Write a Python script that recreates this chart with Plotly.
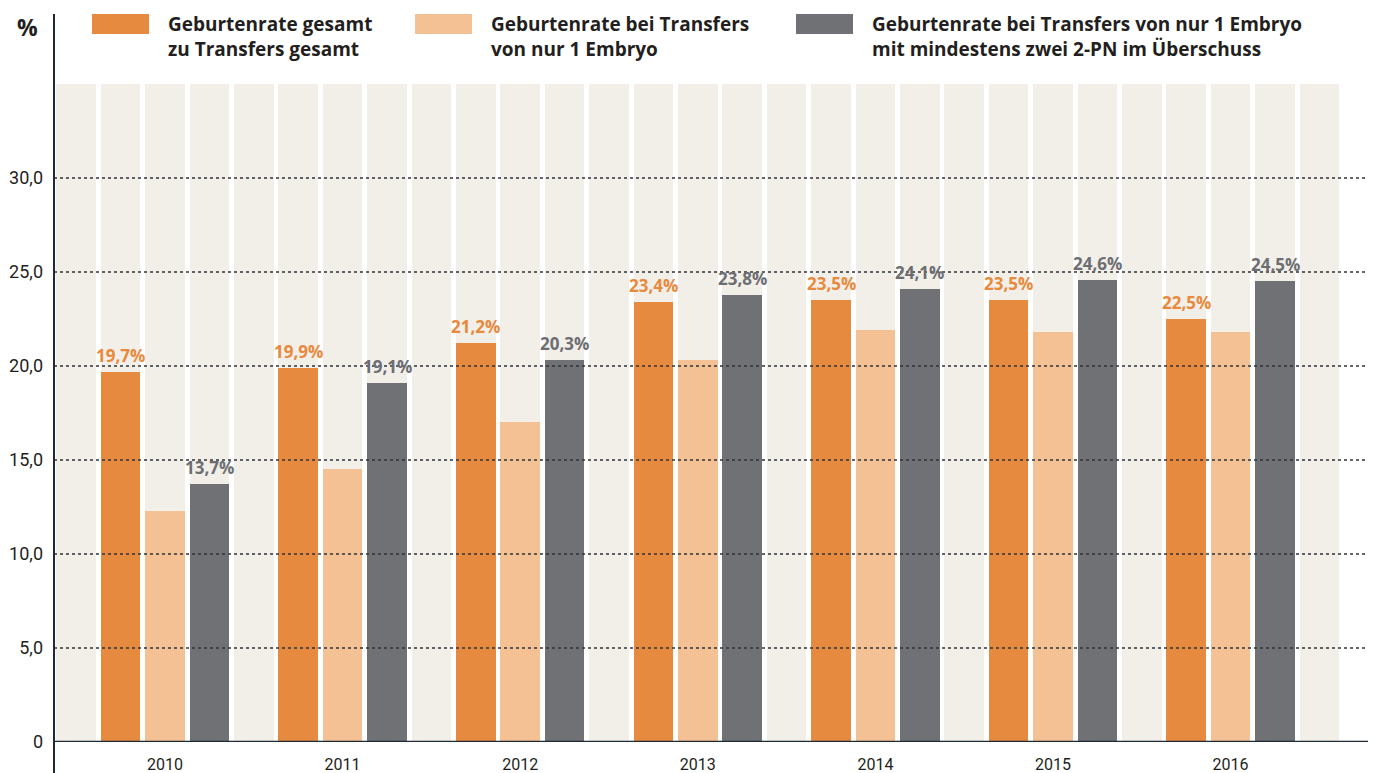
import plotly.graph_objects as go

# the page body adds an 8px margin, so the figure is drawn 8px smaller
OFF = 8
W, H = 1376 - OFF, 773 - OFF
ML, MR, MT, MB = 54 - OFF, 0, 84 - OFF, 31

years = ["2010", "2011", "2012", "2013", "2014", "2015", "2016"]
gesamt = [19.7, 19.9, 21.2, 23.4, 23.5, 23.5, 22.5]
ein_embryo = [12.3, 14.5, 17.0, 20.3, 21.9, 21.8, 21.8]
ein_embryo_2pn = [13.7, 19.1, 20.3, 23.8, 24.1, 24.6, 24.5]

series_names = [
    "Geburtenrate gesamt<br>zu Transfers gesamt",
    "Geburtenrate bei Transfers<br>von nur 1 Embryo",
    "Geburtenrate bei Transfers von nur 1 Embryo<br>mit mindestens zwei 2-PN im Überschuss",
]
colors = ["#e68a40", "#f3c193", "#707175"]
label_colors = ["#e8893d", None, "#6d6e72"]

y_ticks = [0, 5, 10, 15, 20, 25, 30]
y_ticktext = ["0", "5,0", "10,0", "15,0", "20,0", "25,0", "30,0"]
Y_MAX = 35

BEIGE = "#f2efe9"
DARK = "#231f20"
AXIS = "#1e2b34"
BOLD = "Open Sans"
REG = "Roboto"

# column slots: one beige spacer, then per year: 3 bars + beige spacer
n_cols = 4 * len(years) + 1
col_px = 44.4
plot_w = W - ML - MR
x_max = -0.5 + plot_w / col_px
plot_h = H - MT - MB


# helpers take page pixel positions
def px_x(px):
    return (px - OFF - ML) / plot_w


def px_y(py):
    return (H - MB - (py - OFF)) / plot_h


def fmt(v):
    return f"{v:.1f}".replace(".", ",") + "%"


fig = go.Figure()

# beige background columns
fig.add_trace(go.Bar(
    x=list(range(n_cols)), y=[Y_MAX] * n_cols, width=0.89,
    marker=dict(color=BEIGE, line=dict(width=0)),
    hoverinfo="skip", showlegend=False,
))

all_series = [gesamt, ein_embryo, ein_embryo_2pn]
for k, vals in enumerate(all_series):
    xs = [4 * i + 1 + k for i in range(len(years))]
    fig.add_trace(go.Bar(
        x=xs, y=vals, width=0.89, name=series_names[k],
        marker=dict(color=colors[k], line=dict(width=0)),
        showlegend=False,
    ))
    if label_colors[k]:
        for x, v in zip(xs, vals):
            fig.add_annotation(
                x=x, y=v, text="<b>" + fmt(v) + "</b>", showarrow=False,
                yanchor="bottom", yshift=3,
                font=dict(family=BOLD, size=17, color=label_colors[k]),
            )

shapes = []
# dotted gridlines on top of bars
for t in y_ticks[1:]:
    shapes.append(dict(
        type="line", xref="paper", yref="y", x0=0, x1=1, y0=t, y1=t,
        line=dict(color="#2f353a", width=1.3, dash="dot"), layer="above",
    ))
# axis lines
shapes.append(dict(
    type="line", xref="paper", yref="y", x0=0, x1=1, y0=0, y1=0,
    line=dict(color=AXIS, width=2.5), layer="above",
))
shapes.append(dict(
    type="line", xref="paper", yref="paper", x0=0, x1=0,
    y0=px_y(773), y1=px_y(14),
    line=dict(color=AXIS, width=2), layer="above",
))

# legend boxes and texts
legend_px = [92, 415, 796]
for k, lx in enumerate(legend_px):
    shapes.append(dict(
        type="rect", xref="paper", yref="paper",
        x0=px_x(lx), x1=px_x(lx + 57), y0=px_y(34), y1=px_y(14),
        fillcolor=colors[k], line=dict(width=0), layer="above",
    ))
    fig.add_annotation(
        xref="paper", yref="paper", x=px_x(lx + 74), y=px_y(9),
        xanchor="left", yanchor="top", align="left", showarrow=False,
        text="<b>" + series_names[k].replace("<br>", "</b><br><b>") + "</b>",
        font=dict(family=BOLD, size=19, color=DARK),
    )

fig.add_annotation(
    xref="paper", yref="paper", x=px_x(40), y=px_y(9),
    xanchor="right", yanchor="top", showarrow=False, text="<b>%</b>",
    font=dict(family=BOLD, size=23, color=DARK),
)

fig.update_layout(
    width=W, height=H,
    margin=dict(l=ML, r=MR, t=MT, b=MB, pad=0),
    paper_bgcolor="white", plot_bgcolor="white",
    barmode="overlay", bargap=0,
    shapes=shapes,
    xaxis=dict(
        range=[-0.5, x_max], automargin=False,
        tickvals=[4 * i + 2 for i in range(len(years))], ticktext=years,
        showgrid=False, zeroline=False, showline=False, ticks="",
        ticklabelstandoff=11,
        tickfont=dict(family=REG, size=16, color=DARK),
    ),
    yaxis=dict(
        range=[0, Y_MAX], tickvals=y_ticks, ticktext=y_ticktext,
        automargin=False,
        showgrid=False, zeroline=False, showline=False, ticks="",
        ticklabelstandoff=10,
        tickfont=dict(family=REG, size=18, color=DARK),
    ),
)

fig.write_html("out.html")
